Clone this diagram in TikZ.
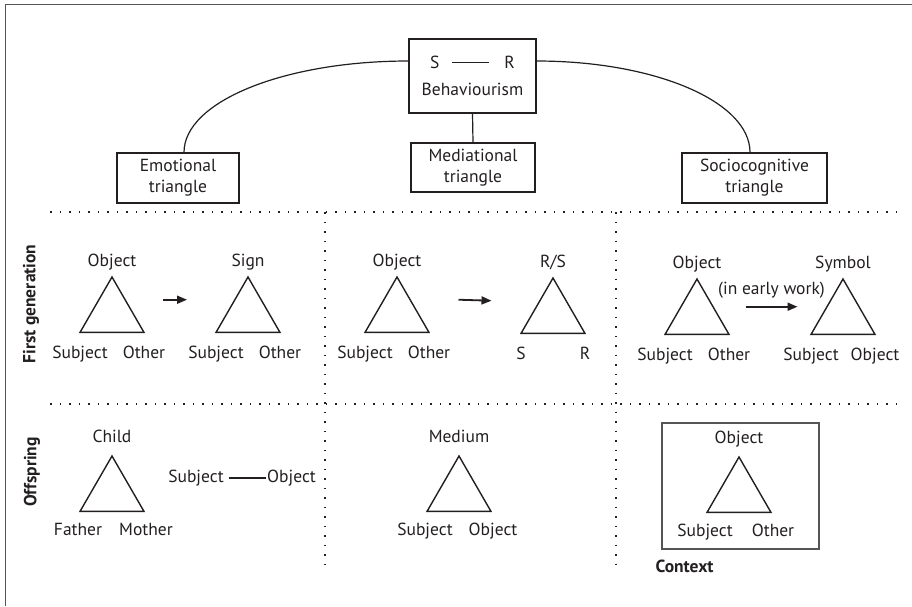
\documentclass[tikz,border=0pt]{standalone}
\usepackage{fontspec}
\setmainfont{PT Sans}
\usetikzlibrary{shapes.geometric,arrows.meta,positioning}
\definecolor{inkdark}{HTML}{231F20}
\definecolor{framegray}{HTML}{555555}

\begin{document}
\begin{tikzpicture}[
  x=1pt, y=-1pt,
  every node/.style={font=\fontsize{17.5}{21}\selectfont, text=inkdark},
  box/.style ={draw=inkdark, line width=1.2pt, align=center, inner sep=0pt},
  tri/.style ={draw=inkdark, line width=1.4pt, regular polygon,
               regular polygon sides=3, minimum size=73.9pt,
               inner sep=0pt, outer sep=0pt},
  lbl/.style ={inner sep=1pt, text height=12.5pt, text depth=4pt},
  bold/.style={font=\fontsize{17.5}{21}\selectfont\bfseries},
  rowtit/.style={bold, rotate=90},
  divider/.style={draw=inkdark, line width=1.5pt, dash pattern=on 1.5pt off 8pt},
  arr/.style ={-{Triangle[length=10pt,width=8pt]}, line width=1.8pt, draw=inkdark},
  lnk/.style ={draw=inkdark, line width=1.2pt}
]
\useasboundingbox (0,0) rectangle (912,606);

%% ─── frame ─────────────────────────────────────────────────────────────────
\draw[line width=1.8pt, draw=framegray] (912,4.5) -- (5.5,4.5) -- (5.5,606);

%% ─── top: behaviourism and the three triangles ─────────────────────────────
\node[box, minimum width=127pt, minimum height=74pt] (beh) at (472.5,76)
  {S\hspace{13pt}\rule[5.5pt]{37pt}{1.1pt}\hspace{15pt}R\\[6pt]Behaviourism};
\node[box, minimum width=124pt, minimum height=49pt] (med) at (473,167.5)
  {Mediational\\triangle};
\node[box, minimum width=122pt, minimum height=50pt] (emo) at (178,178)
  {Emotional\\triangle};
\node[box, minimum width=145pt, minimum height=50pt] (soc) at (754.5,178)
  {Sociocognitive\\triangle};

\draw[lnk] (beh.south) -- (med.north);
\draw[lnk] ([yshift=15pt]beh.west) .. controls +(-124,0) and +(0,-51)
  .. ([xshift=6pt]emo.north);
\draw[lnk] ([yshift=15pt]beh.east) .. controls +(118,0) and +(0,-51)
  .. ([xshift=-4.5pt]soc.north);

%% ─── grid ──────────────────────────────────────────────────────────────────
\draw[divider] (50,212) -- (900,212);
\draw[divider] (50,404) -- (900,404);
\draw[divider] (325,212) -- (325,573);
\draw[divider] (616,212) -- (616,573);

\node[rowtit] (t_first) at (31,304) {First generation};
\node[rowtit] (t_off)   at (32,472) {Offspring};

%% ─── first generation ──────────────────────────────────────────────────────
\foreach \n/\x/\y/\ta/\tb/\tc in {fg_a/112/277/Object/Subject/Other,
                                  fg_b/248/277/Sign/Subject/Other,
                                  fg_c/397/277/Object/Subject/Other,
                                  fg_d/553/278/{R/S}/S/R,
                                  fg_e/697/279/Object/Subject/Other,
                                  fg_f/843/279/Symbol/Subject/Object}
{
  \node[tri] (\n) at (\x,\y+36.95) {};
  \node[lbl, above=5pt of \n.corner 1]  (\n_t) {\ta};
  \node[lbl, below=12pt of \n.corner 2] (\n_l) {\tb};
  \node[lbl, below=12pt of \n.corner 3] (\n_r) {\tc};
}

\draw[arr] ([xshift=35pt,yshift=5pt]fg_a.side 3) -- ([xshift=-45pt,yshift=5pt]fg_b.side 1);
\draw[arr] ([xshift=45.5pt,yshift=5pt]fg_c.side 3) -- ([xshift=-45.5pt,yshift=5pt]fg_d.side 1);
\draw[arr] ([xshift=32.5pt]fg_e.side 3) --
  node[lbl, above=6pt] (early) {(in early work)} ([xshift=-29.5pt]fg_f.side 1);

%% ─── offspring ─────────────────────────────────────────────────────────────
\node[box, draw=framegray, minimum width=157pt, minimum height=126pt] (ctx) at (740.5,486) {};
\node[lbl, bold, below right=9pt and -7pt of ctx.south west] (ctx_t) {Context};

\foreach \n/\x/\y/\ta/\tb/\tc in {of_a/112/456/Child/Father/Mother,
                                  of_b/459/456/Medium/Subject/Object,
                                  of_c/739/457/Object/Subject/Other}
{
  \node[tri] (\n) at (\x,\y+36.95) {};
  \node[lbl, above=8pt of \n.corner 1]               (\n_t) {\ta};
  \node[lbl, below=10pt of \n.corner 2, xshift=-2pt] (\n_l) {\tb};
  \node[lbl, below=10pt of \n.corner 3, xshift=2pt]  (\n_r) {\tc};
}

\node[lbl] (of_subj) at (196,478)   {Subject};
\node[lbl] (of_obj)  at (291.5,478) {Object};
\draw[lnk, shorten <=4pt] (of_subj) -- (of_obj);

\end{tikzpicture}
\end{document}
